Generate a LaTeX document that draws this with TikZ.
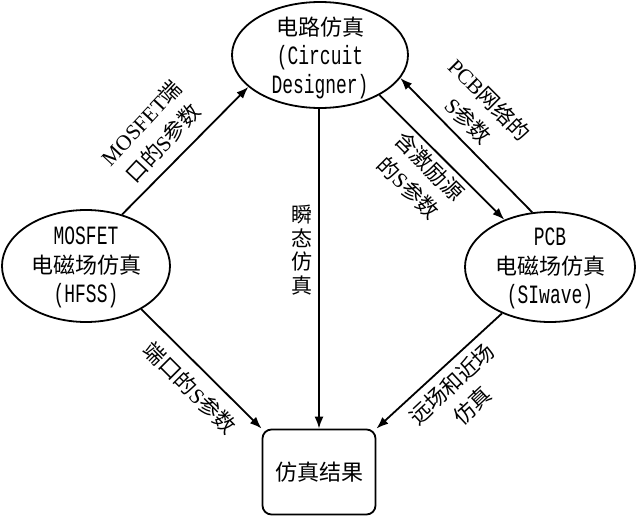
\documentclass[tikz,border=0pt]{standalone}
\usepackage{fontspec}
\setmainfont{Liberation Serif}
\newfontfamily\cjk{Noto Sans CJK SC}
\newfontfamily\mono[FakeStretch=0.68,Scale=1.2]{Liberation Mono}
\usetikzlibrary{shapes.geometric,arrows.meta}
\begin{document}
\begin{tikzpicture}[x=1pt,y=-1pt,
  ell/.style={ellipse, draw, line width=1.8pt, inner sep=0pt},
  etxt/.style={align=center, inner sep=0pt, font=\fontsize{22}{29}\selectfont},
  resbox/.style={draw, line width=1.8pt, rounded corners=9pt, inner sep=0pt,
    minimum width=113pt, minimum height=85pt, font=\fontsize{22}{29}\selectfont},
  conn/.style={line width=1.8pt, -{Latex[length=12pt,width=9pt]}},
  lbl/.style={align=center, inner sep=0pt, font=\fontsize{21.5}{30}\selectfont},
  vlbl/.style={align=center, inner sep=0pt, font=\fontsize{21}{23.5}\selectfont}]
\useasboundingbox (0,0) rectangle (636,516);
% nodes
\node[ell, minimum width=176pt, minimum height=106pt] (top) at (320,55) {};
\node[etxt] (toptxt) at (320,58) {{\cjk 电路仿真}\\{\mono (Circuit}\\{\mono Designer)}};
\node[ell, minimum width=168pt, minimum height=112pt] (left) at (86,266) {};
\node[etxt] (lefttxt) at (86,267) {{\mono MOSFET}\\{\cjk 电磁场仿真}\\{\mono (HFSS)}};
\node[ell, minimum width=170pt, minimum height=110pt] (right) at (550,267) {};
\node[etxt] (righttxt) at (550,268) {{\mono PCB}\\{\cjk 电磁场仿真}\\{\mono (SIwave)}};
\node[resbox] (res) at (319,472) {\cjk 仿真结果};
% connectors
\draw[conn] (left.55) -- (top.204);
\draw[conn] (left.-38) -- (res.north west);
\draw[conn] (top.south -| res.north) -- (res.north);
\draw[conn] (top.-34) -- (right.134);
\draw[conn] (right.108) -- (top.-16);
\draw[conn] (right.-136) -- (res.north east);
% labels
\node[lbl, rotate=47] (l1) at (152,133) {MOSFET{\cjk 端}\\{\cjk 口的}S{\cjk 参数}};
\node[vlbl] (l2) at (302,250) {\cjk 瞬\\ \cjk 态\\ \cjk 仿\\ \cjk 真};
\node[lbl, rotate=-45] (l3) at (419,177) {{\cjk 含激励源}\\{\cjk 的}S{\cjk 参数}};
\node[lbl, rotate=-45] (l4) at (479,110) {PCB{\cjk 网络的}\\S{\cjk 参数}};
\node[lbl, rotate=-45] (l5) at (190,388) {{\cjk 端口的}S{\cjk 参数}};
\node[lbl, rotate=43] (l6) at (462,395) {{\cjk 远场和近场}\\{\cjk 仿真}};
\end{tikzpicture}
\end{document}
